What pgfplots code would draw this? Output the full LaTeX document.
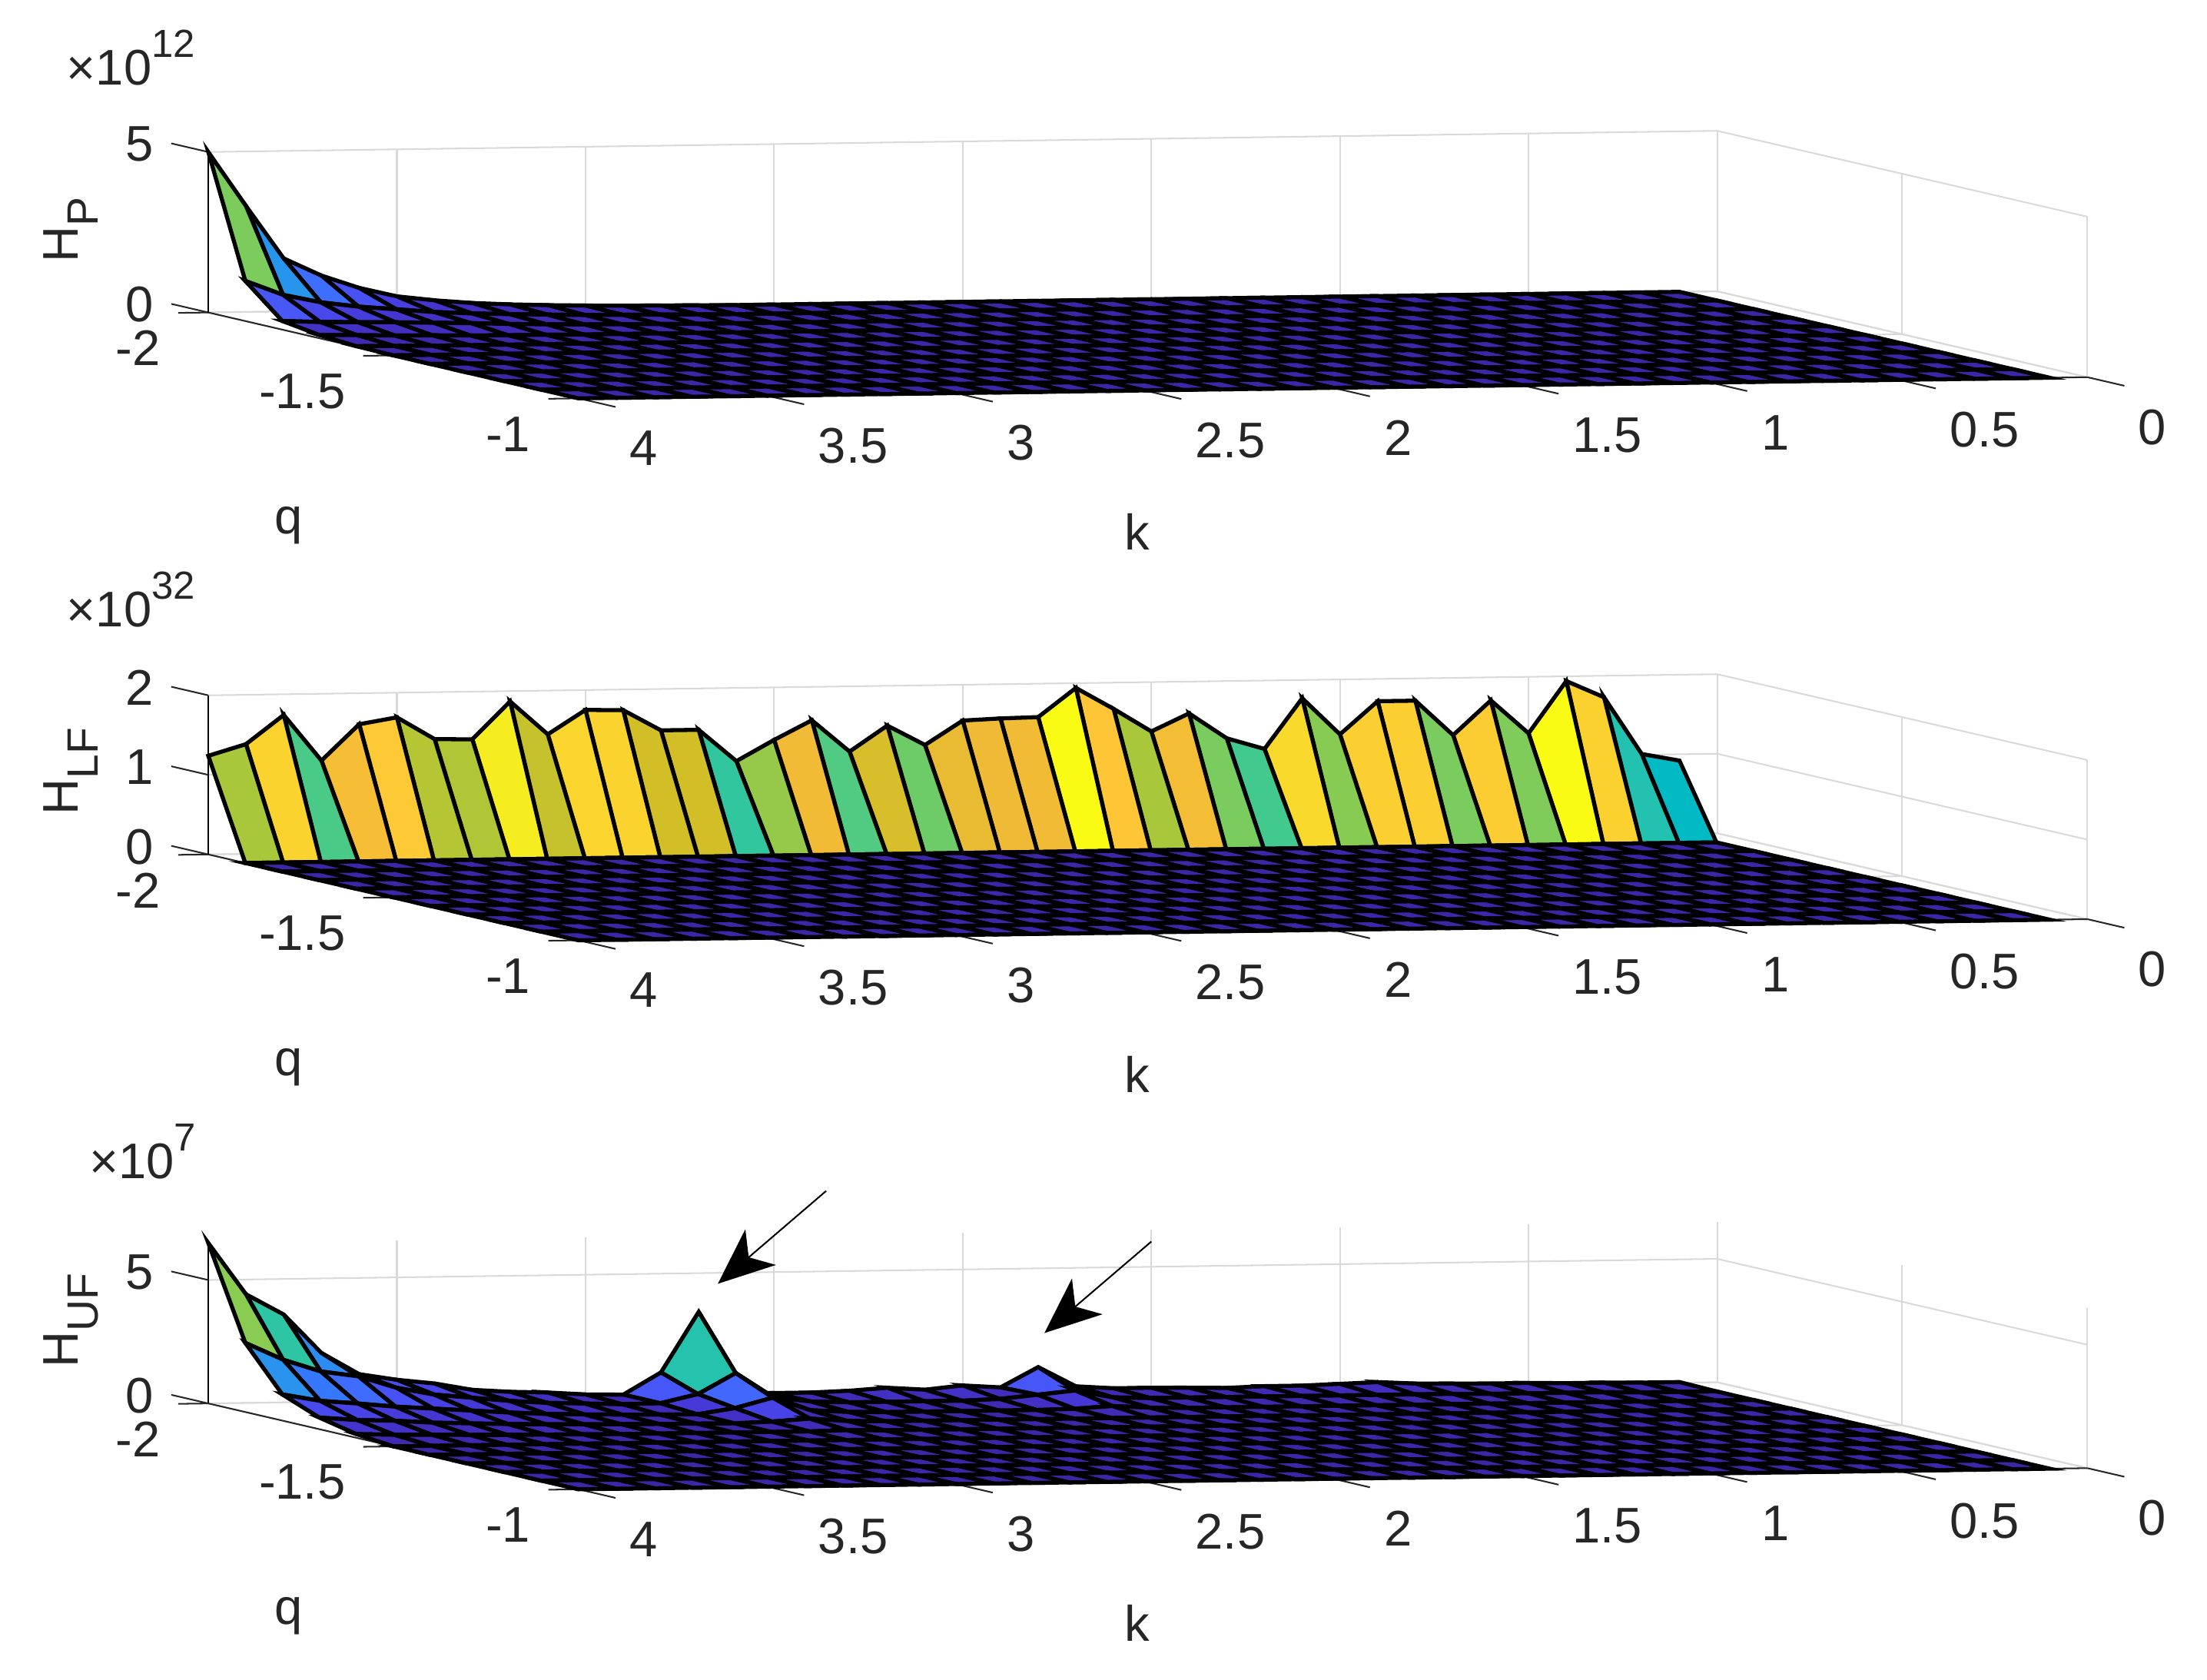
\documentclass[border=0pt]{standalone}
\usepackage{fontspec}
\setmainfont{Liberation Sans}
\usepackage{pgfplots}
\usepackage{pgfplotstable}
\pgfplotsset{compat=1.18}
\usetikzlibrary{arrows.meta}
\definecolor{axgray}{rgb}{0.15,0.15,0.15}
\newcommand{\lab}{\fontsize{16}{18}\selectfont\color{axgray}}
\newcommand{\labsub}[1]{\raisebox{-0.4em}{\fontsize{14}{12}\selectfont #1}}
\newcommand{\labsup}[1]{\raisebox{0.55em}{\fontsize{12.5}{12}\selectfont #1}}

% rows q=-1.5 ... -1 are flat in all three panels
\pgfplotstableread{
k q z
0.1 -1.5 0
0.2 -1.5 0
0.3 -1.5 0
0.4 -1.5 0
0.5 -1.5 0
0.6 -1.5 0
0.7 -1.5 0
0.8 -1.5 0
0.9 -1.5 0
1.0 -1.5 0
1.1 -1.5 0
1.2 -1.5 0
1.3 -1.5 0
1.4 -1.5 0
1.5 -1.5 0
1.6 -1.5 0
1.7 -1.5 0
1.8 -1.5 0
1.9 -1.5 0
2.0 -1.5 0
2.1 -1.5 0
2.2 -1.5 0
2.3 -1.5 0
2.4 -1.5 0
2.5 -1.5 0
2.6 -1.5 0
2.7 -1.5 0
2.8 -1.5 0
2.9 -1.5 0
3.0 -1.5 0
3.1 -1.5 0
3.2 -1.5 0
3.3 -1.5 0
3.4 -1.5 0
3.5 -1.5 0
3.6 -1.5 0
3.7 -1.5 0
3.8 -1.5 0
3.9 -1.5 0
4.0 -1.5 0
0.1 -1.4 0
0.2 -1.4 0
0.3 -1.4 0
0.4 -1.4 0
0.5 -1.4 0
0.6 -1.4 0
0.7 -1.4 0
0.8 -1.4 0
0.9 -1.4 0
1.0 -1.4 0
1.1 -1.4 0
1.2 -1.4 0
1.3 -1.4 0
1.4 -1.4 0
1.5 -1.4 0
1.6 -1.4 0
1.7 -1.4 0
1.8 -1.4 0
1.9 -1.4 0
2.0 -1.4 0
2.1 -1.4 0
2.2 -1.4 0
2.3 -1.4 0
2.4 -1.4 0
2.5 -1.4 0
2.6 -1.4 0
2.7 -1.4 0
2.8 -1.4 0
2.9 -1.4 0
3.0 -1.4 0
3.1 -1.4 0
3.2 -1.4 0
3.3 -1.4 0
3.4 -1.4 0
3.5 -1.4 0
3.6 -1.4 0
3.7 -1.4 0
3.8 -1.4 0
3.9 -1.4 0
4.0 -1.4 0
0.1 -1.3 0
0.2 -1.3 0
0.3 -1.3 0
0.4 -1.3 0
0.5 -1.3 0
0.6 -1.3 0
0.7 -1.3 0
0.8 -1.3 0
0.9 -1.3 0
1.0 -1.3 0
1.1 -1.3 0
1.2 -1.3 0
1.3 -1.3 0
1.4 -1.3 0
1.5 -1.3 0
1.6 -1.3 0
1.7 -1.3 0
1.8 -1.3 0
1.9 -1.3 0
2.0 -1.3 0
2.1 -1.3 0
2.2 -1.3 0
2.3 -1.3 0
2.4 -1.3 0
2.5 -1.3 0
2.6 -1.3 0
2.7 -1.3 0
2.8 -1.3 0
2.9 -1.3 0
3.0 -1.3 0
3.1 -1.3 0
3.2 -1.3 0
3.3 -1.3 0
3.4 -1.3 0
3.5 -1.3 0
3.6 -1.3 0
3.7 -1.3 0
3.8 -1.3 0
3.9 -1.3 0
4.0 -1.3 0
0.1 -1.2 0
0.2 -1.2 0
0.3 -1.2 0
0.4 -1.2 0
0.5 -1.2 0
0.6 -1.2 0
0.7 -1.2 0
0.8 -1.2 0
0.9 -1.2 0
1.0 -1.2 0
1.1 -1.2 0
1.2 -1.2 0
1.3 -1.2 0
1.4 -1.2 0
1.5 -1.2 0
1.6 -1.2 0
1.7 -1.2 0
1.8 -1.2 0
1.9 -1.2 0
2.0 -1.2 0
2.1 -1.2 0
2.2 -1.2 0
2.3 -1.2 0
2.4 -1.2 0
2.5 -1.2 0
2.6 -1.2 0
2.7 -1.2 0
2.8 -1.2 0
2.9 -1.2 0
3.0 -1.2 0
3.1 -1.2 0
3.2 -1.2 0
3.3 -1.2 0
3.4 -1.2 0
3.5 -1.2 0
3.6 -1.2 0
3.7 -1.2 0
3.8 -1.2 0
3.9 -1.2 0
4.0 -1.2 0
0.1 -1.1 0
0.2 -1.1 0
0.3 -1.1 0
0.4 -1.1 0
0.5 -1.1 0
0.6 -1.1 0
0.7 -1.1 0
0.8 -1.1 0
0.9 -1.1 0
1.0 -1.1 0
1.1 -1.1 0
1.2 -1.1 0
1.3 -1.1 0
1.4 -1.1 0
1.5 -1.1 0
1.6 -1.1 0
1.7 -1.1 0
1.8 -1.1 0
1.9 -1.1 0
2.0 -1.1 0
2.1 -1.1 0
2.2 -1.1 0
2.3 -1.1 0
2.4 -1.1 0
2.5 -1.1 0
2.6 -1.1 0
2.7 -1.1 0
2.8 -1.1 0
2.9 -1.1 0
3.0 -1.1 0
3.1 -1.1 0
3.2 -1.1 0
3.3 -1.1 0
3.4 -1.1 0
3.5 -1.1 0
3.6 -1.1 0
3.7 -1.1 0
3.8 -1.1 0
3.9 -1.1 0
4.0 -1.1 0
0.1 -1 0
0.2 -1 0
0.3 -1 0
0.4 -1 0
0.5 -1 0
0.6 -1 0
0.7 -1 0
0.8 -1 0
0.9 -1 0
1.0 -1 0
1.1 -1 0
1.2 -1 0
1.3 -1 0
1.4 -1 0
1.5 -1 0
1.6 -1 0
1.7 -1 0
1.8 -1 0
1.9 -1 0
2.0 -1 0
2.1 -1 0
2.2 -1 0
2.3 -1 0
2.4 -1 0
2.5 -1 0
2.6 -1 0
2.7 -1 0
2.8 -1 0
2.9 -1 0
3.0 -1 0
3.1 -1 0
3.2 -1 0
3.3 -1 0
3.4 -1 0
3.5 -1 0
3.6 -1 0
3.7 -1 0
3.8 -1 0
3.9 -1 0
4.0 -1 0
}\flatrows

% H_P, units of 1e12, rows q=-2 ... -1.6
\pgfplotstableread{
k q z
0.1 -2 0
0.2 -2 0
0.3 -2 0
0.4 -2 0
0.5 -2 0
0.6 -2 0
0.7 -2 0
0.8 -2 0
0.9 -2 0
1.0 -2 0
1.1 -2 0
1.2 -2 0
1.3 -2 0
1.4 -2 0
1.5 -2 0
1.6 -2 0
1.7 -2 0
1.8 -2 0
1.9 -2 0
2.0 -2 0
2.1 -2 0
2.2 -2 0
2.3 -2 0
2.4 -2 0
2.5 -2 0
2.6 -2 0
2.7 -2 0.01
2.8 -2 0.02
2.9 -2 0.03
3.0 -2 0.05
3.1 -2 0.08
3.2 -2 0.12
3.3 -2 0.18
3.4 -2 0.28
3.5 -2 0.42
3.6 -2 0.7
3.7 -2 1.1
3.8 -2 1.65
3.9 -2 3.3
4.0 -2 5
0.1 -1.9 0
0.2 -1.9 0
0.3 -1.9 0
0.4 -1.9 0
0.5 -1.9 0
0.6 -1.9 0
0.7 -1.9 0
0.8 -1.9 0
0.9 -1.9 0
1.0 -1.9 0
1.1 -1.9 0
1.2 -1.9 0
1.3 -1.9 0
1.4 -1.9 0
1.5 -1.9 0
1.6 -1.9 0
1.7 -1.9 0
1.8 -1.9 0
1.9 -1.9 0
2.0 -1.9 0
2.1 -1.9 0
2.2 -1.9 0
2.3 -1.9 0
2.4 -1.9 0
2.5 -1.9 0
2.6 -1.9 0
2.7 -1.9 0
2.8 -1.9 0.01
2.9 -1.9 0.02
3.0 -1.9 0.03
3.1 -1.9 0.04
3.2 -1.9 0.07
3.3 -1.9 0.1
3.4 -1.9 0.14
3.5 -1.9 0.2
3.6 -1.9 0.3
3.7 -1.9 0.4
3.8 -1.9 0.55
3.9 -1.9 0.8
4.0 -1.9 1.25
0.1 -1.8 0
0.2 -1.8 0
0.3 -1.8 0
0.4 -1.8 0
0.5 -1.8 0
0.6 -1.8 0
0.7 -1.8 0
0.8 -1.8 0
0.9 -1.8 0
1.0 -1.8 0
1.1 -1.8 0
1.2 -1.8 0
1.3 -1.8 0
1.4 -1.8 0
1.5 -1.8 0
1.6 -1.8 0
1.7 -1.8 0
1.8 -1.8 0
1.9 -1.8 0
2.0 -1.8 0
2.1 -1.8 0
2.2 -1.8 0
2.3 -1.8 0
2.4 -1.8 0
2.5 -1.8 0
2.6 -1.8 0
2.7 -1.8 0
2.8 -1.8 0
2.9 -1.8 0
3.0 -1.8 0.01
3.1 -1.8 0.02
3.2 -1.8 0.03
3.3 -1.8 0.05
3.4 -1.8 0.08
3.5 -1.8 0.12
3.6 -1.8 0.15
3.7 -1.8 0.18
3.8 -1.8 0.2
3.9 -1.8 0.22
4.0 -1.8 0.27
0.1 -1.7 0
0.2 -1.7 0
0.3 -1.7 0
0.4 -1.7 0
0.5 -1.7 0
0.6 -1.7 0
0.7 -1.7 0
0.8 -1.7 0
0.9 -1.7 0
1.0 -1.7 0
1.1 -1.7 0
1.2 -1.7 0
1.3 -1.7 0
1.4 -1.7 0
1.5 -1.7 0
1.6 -1.7 0
1.7 -1.7 0
1.8 -1.7 0
1.9 -1.7 0
2.0 -1.7 0
2.1 -1.7 0
2.2 -1.7 0
2.3 -1.7 0
2.4 -1.7 0
2.5 -1.7 0
2.6 -1.7 0
2.7 -1.7 0
2.8 -1.7 0
2.9 -1.7 0
3.0 -1.7 0
3.1 -1.7 0
3.2 -1.7 0
3.3 -1.7 0
3.4 -1.7 0.01
3.5 -1.7 0.01
3.6 -1.7 0.02
3.7 -1.7 0.04
3.8 -1.7 0.05
3.9 -1.7 0.08
4.0 -1.7 0.1
0.1 -1.6 0
0.2 -1.6 0
0.3 -1.6 0
0.4 -1.6 0
0.5 -1.6 0
0.6 -1.6 0
0.7 -1.6 0
0.8 -1.6 0
0.9 -1.6 0
1.0 -1.6 0
1.1 -1.6 0
1.2 -1.6 0
1.3 -1.6 0
1.4 -1.6 0
1.5 -1.6 0
1.6 -1.6 0
1.7 -1.6 0
1.8 -1.6 0
1.9 -1.6 0
2.0 -1.6 0
2.1 -1.6 0
2.2 -1.6 0
2.3 -1.6 0
2.4 -1.6 0
2.5 -1.6 0
2.6 -1.6 0
2.7 -1.6 0
2.8 -1.6 0
2.9 -1.6 0
3.0 -1.6 0
3.1 -1.6 0
3.2 -1.6 0
3.3 -1.6 0
3.4 -1.6 0
3.5 -1.6 0
3.6 -1.6 0
3.7 -1.6 0
3.8 -1.6 0
3.9 -1.6 0.01
4.0 -1.6 0.02
}\tableP
\pgfplotstablevertcat{\tableP}{\flatrows}

% H_LF, units of 1e32, only the row q=-2 is nonzero
\pgfplotstableread{
k q z
0.1 -2 0.92
0.2 -2 1.01
0.3 -2 1.73
0.4 -2 1.94
0.5 -2 1.29
0.6 -2 1.71
0.7 -2 1.28
0.8 -2 1.72
0.9 -2 1.72
1.0 -2 1.31
1.1 -2 1.77
1.2 -2 1.14
1.3 -2 1.28
1.4 -2 1.6
1.5 -2 1.38
1.6 -2 1.67
1.7 -2 1.94
1.8 -2 1.58
1.9 -2 1.57
2.0 -2 1.55
2.1 -2 1.25
2.2 -2 1.5
2.3 -2 1.18
2.4 -2 1.58
2.5 -2 1.34
2.6 -2 1.08
2.7 -2 1.48
2.8 -2 1.48
2.9 -2 1.74
3.0 -2 1.75
3.1 -2 1.45
3.2 -2 1.87
3.3 -2 1.4
3.4 -2 1.41
3.5 -2 1.69
3.6 -2 1.61
3.7 -2 1.16
3.8 -2 1.74
3.9 -2 1.38
4.0 -2 1.24
0.1 -1.9 0
0.2 -1.9 0
0.3 -1.9 0
0.4 -1.9 0
0.5 -1.9 0
0.6 -1.9 0
0.7 -1.9 0
0.8 -1.9 0
0.9 -1.9 0
1.0 -1.9 0
1.1 -1.9 0
1.2 -1.9 0
1.3 -1.9 0
1.4 -1.9 0
1.5 -1.9 0
1.6 -1.9 0
1.7 -1.9 0
1.8 -1.9 0
1.9 -1.9 0
2.0 -1.9 0
2.1 -1.9 0
2.2 -1.9 0
2.3 -1.9 0
2.4 -1.9 0
2.5 -1.9 0
2.6 -1.9 0
2.7 -1.9 0
2.8 -1.9 0
2.9 -1.9 0
3.0 -1.9 0
3.1 -1.9 0
3.2 -1.9 0
3.3 -1.9 0
3.4 -1.9 0
3.5 -1.9 0
3.6 -1.9 0
3.7 -1.9 0
3.8 -1.9 0
3.9 -1.9 0
4.0 -1.9 0
0.1 -1.8 0
0.2 -1.8 0
0.3 -1.8 0
0.4 -1.8 0
0.5 -1.8 0
0.6 -1.8 0
0.7 -1.8 0
0.8 -1.8 0
0.9 -1.8 0
1.0 -1.8 0
1.1 -1.8 0
1.2 -1.8 0
1.3 -1.8 0
1.4 -1.8 0
1.5 -1.8 0
1.6 -1.8 0
1.7 -1.8 0
1.8 -1.8 0
1.9 -1.8 0
2.0 -1.8 0
2.1 -1.8 0
2.2 -1.8 0
2.3 -1.8 0
2.4 -1.8 0
2.5 -1.8 0
2.6 -1.8 0
2.7 -1.8 0
2.8 -1.8 0
2.9 -1.8 0
3.0 -1.8 0
3.1 -1.8 0
3.2 -1.8 0
3.3 -1.8 0
3.4 -1.8 0
3.5 -1.8 0
3.6 -1.8 0
3.7 -1.8 0
3.8 -1.8 0
3.9 -1.8 0
4.0 -1.8 0
0.1 -1.7 0
0.2 -1.7 0
0.3 -1.7 0
0.4 -1.7 0
0.5 -1.7 0
0.6 -1.7 0
0.7 -1.7 0
0.8 -1.7 0
0.9 -1.7 0
1.0 -1.7 0
1.1 -1.7 0
1.2 -1.7 0
1.3 -1.7 0
1.4 -1.7 0
1.5 -1.7 0
1.6 -1.7 0
1.7 -1.7 0
1.8 -1.7 0
1.9 -1.7 0
2.0 -1.7 0
2.1 -1.7 0
2.2 -1.7 0
2.3 -1.7 0
2.4 -1.7 0
2.5 -1.7 0
2.6 -1.7 0
2.7 -1.7 0
2.8 -1.7 0
2.9 -1.7 0
3.0 -1.7 0
3.1 -1.7 0
3.2 -1.7 0
3.3 -1.7 0
3.4 -1.7 0
3.5 -1.7 0
3.6 -1.7 0
3.7 -1.7 0
3.8 -1.7 0
3.9 -1.7 0
4.0 -1.7 0
0.1 -1.6 0
0.2 -1.6 0
0.3 -1.6 0
0.4 -1.6 0
0.5 -1.6 0
0.6 -1.6 0
0.7 -1.6 0
0.8 -1.6 0
0.9 -1.6 0
1.0 -1.6 0
1.1 -1.6 0
1.2 -1.6 0
1.3 -1.6 0
1.4 -1.6 0
1.5 -1.6 0
1.6 -1.6 0
1.7 -1.6 0
1.8 -1.6 0
1.9 -1.6 0
2.0 -1.6 0
2.1 -1.6 0
2.2 -1.6 0
2.3 -1.6 0
2.4 -1.6 0
2.5 -1.6 0
2.6 -1.6 0
2.7 -1.6 0
2.8 -1.6 0
2.9 -1.6 0
3.0 -1.6 0
3.1 -1.6 0
3.2 -1.6 0
3.3 -1.6 0
3.4 -1.6 0
3.5 -1.6 0
3.6 -1.6 0
3.7 -1.6 0
3.8 -1.6 0
3.9 -1.6 0
4.0 -1.6 0
}\tableLF
\pgfplotstablevertcat{\tableLF}{\flatrows}

% H_UF, units of 1e7, rows q=-2 ... -1.6
\pgfplotstableread{
k q z
0.1 -2 0.03
0.2 -2 0.03
0.3 -2 0.05
0.4 -2 0.05
0.5 -2 0.08
0.6 -2 0.08
0.7 -2 0.1
0.8 -2 0.12
0.9 -2 0.2
1.0 -2 0.15
1.1 -2 0.1
1.2 -2 0.1
1.3 -2 0.05
1.4 -2 0.08
1.5 -2 0.1
1.6 -2 0.1
1.7 -2 0.2
1.8 -2 1.0
1.9 -2 0.2
2.0 -2 0.3
2.1 -2 0.15
2.2 -2 0.25
2.3 -2 0.15
2.4 -2 0.1
2.5 -2 0.1
2.6 -2 0.15
2.7 -2 3.43
2.8 -2 1.0
2.9 -2 0.12
3.0 -2 0.15
3.1 -2 0.25
3.2 -2 0.3
3.3 -2 0.4
3.4 -2 0.68
3.5 -2 0.85
3.6 -2 1.1
3.7 -2 1.98
3.8 -2 3.56
3.9 -2 4.4
4.0 -2 6.5
0.1 -1.9 0
0.2 -1.9 0
0.3 -1.9 0
0.4 -1.9 0.03
0.5 -1.9 0.03
0.6 -1.9 0.03
0.7 -1.9 0.03
0.8 -1.9 0.05
0.9 -1.9 0.05
1.0 -1.9 0.05
1.1 -1.9 0.05
1.2 -1.9 0.05
1.3 -1.9 0.05
1.4 -1.9 0.05
1.5 -1.9 0.05
1.6 -1.9 0.05
1.7 -1.9 0.1
1.8 -1.9 0.4
1.9 -1.9 0.25
2.0 -1.9 0.1
2.1 -1.9 0.05
2.2 -1.9 0.05
2.3 -1.9 0.05
2.4 -1.9 0.05
2.5 -1.9 0.1
2.6 -1.9 0.3
2.7 -1.9 1.3
2.8 -1.9 0.47
2.9 -1.9 0.12
3.0 -1.9 0.1
3.1 -1.9 0.15
3.2 -1.9 0.2
3.3 -1.9 0.3
3.4 -1.9 0.45
3.5 -1.9 0.6
3.6 -1.9 0.9
3.7 -1.9 1.38
3.8 -1.9 1.6
3.9 -1.9 2.1
4.0 -1.9 2.8
0.1 -1.8 0
0.2 -1.8 0
0.3 -1.8 0
0.4 -1.8 0
0.5 -1.8 0
0.6 -1.8 0
0.7 -1.8 0
0.8 -1.8 0
0.9 -1.8 0
1.0 -1.8 0
1.1 -1.8 0
1.2 -1.8 0
1.3 -1.8 0
1.4 -1.8 0
1.5 -1.8 0
1.6 -1.8 0
1.7 -1.8 0.03
1.8 -1.8 0.12
1.9 -1.8 0.03
2.0 -1.8 0
2.1 -1.8 0
2.2 -1.8 0
2.3 -1.8 0
2.4 -1.8 0
2.5 -1.8 0.03
2.6 -1.8 0.12
2.7 -1.8 0.65
2.8 -1.8 0.25
2.9 -1.8 0.02
3.0 -1.8 0.03
3.1 -1.8 0.05
3.2 -1.8 0.08
3.3 -1.8 0.12
3.4 -1.8 0.2
3.5 -1.8 0.3
3.6 -1.8 0.4
3.7 -1.8 0.5
3.8 -1.8 0.65
3.9 -1.8 0.78
4.0 -1.8 1.06
0.1 -1.7 0
0.2 -1.7 0
0.3 -1.7 0
0.4 -1.7 0
0.5 -1.7 0
0.6 -1.7 0
0.7 -1.7 0
0.8 -1.7 0
0.9 -1.7 0
1.0 -1.7 0
1.1 -1.7 0
1.2 -1.7 0
1.3 -1.7 0
1.4 -1.7 0
1.5 -1.7 0
1.6 -1.7 0
1.7 -1.7 0
1.8 -1.7 0
1.9 -1.7 0
2.0 -1.7 0
2.1 -1.7 0
2.2 -1.7 0
2.3 -1.7 0
2.4 -1.7 0
2.5 -1.7 0
2.6 -1.7 0.03
2.7 -1.7 0.15
2.8 -1.7 0.05
2.9 -1.7 0
3.0 -1.7 0.01
3.1 -1.7 0.02
3.2 -1.7 0.03
3.3 -1.7 0.05
3.4 -1.7 0.07
3.5 -1.7 0.1
3.6 -1.7 0.15
3.7 -1.7 0.2
3.8 -1.7 0.3
3.9 -1.7 0.35
4.0 -1.7 0.47
0.1 -1.6 0
0.2 -1.6 0
0.3 -1.6 0
0.4 -1.6 0
0.5 -1.6 0
0.6 -1.6 0
0.7 -1.6 0
0.8 -1.6 0
0.9 -1.6 0
1.0 -1.6 0
1.1 -1.6 0
1.2 -1.6 0
1.3 -1.6 0
1.4 -1.6 0
1.5 -1.6 0
1.6 -1.6 0
1.7 -1.6 0
1.8 -1.6 0
1.9 -1.6 0
2.0 -1.6 0
2.1 -1.6 0
2.2 -1.6 0
2.3 -1.6 0
2.4 -1.6 0
2.5 -1.6 0
2.6 -1.6 0
2.7 -1.6 0.03
2.8 -1.6 0
2.9 -1.6 0
3.0 -1.6 0
3.1 -1.6 0
3.2 -1.6 0
3.3 -1.6 0
3.4 -1.6 0.01
3.5 -1.6 0.02
3.6 -1.6 0.03
3.7 -1.6 0.05
3.8 -1.6 0.08
3.9 -1.6 0.1
4.0 -1.6 0.15
}\tableUF
\pgfplotstablevertcat{\tableUF}{\flatrows}

\pgfplotsset{
  colormap={parula}{
    rgb=(.2422,.1504,.6603) rgb=(.2647,.1978,.7952) rgb=(.2783,.2559,.8991)
    rgb=(.2810,.3228,.9579) rgb=(.2699,.3892,.9906) rgb=(.2206,.4603,.9973)
    rgb=(.1786,.5289,.9682) rgb=(.1540,.5902,.9218) rgb=(.1248,.6459,.8883)
    rgb=(.0689,.6948,.8394) rgb=(.0067,.7312,.7660) rgb=(.1408,.7584,.6842)
    rgb=(.2161,.7843,.5923) rgb=(.3406,.8008,.4789) rgb=(.5044,.7993,.3480)
    rgb=(.6720,.7793,.2227) rgb=(.8203,.7498,.1535) rgb=(.9393,.7288,.2100)
    rgb=(.9970,.7659,.2199) rgb=(.9786,.8386,.1766) rgb=(.9597,.9135,.1423)
    rgb=(.9769,.9839,.0805)},
  panel/.style={
    anchor=south west,
    x={(-120.6pt,-1.69pt)}, y={(118.35pt,-27.45pt)},
    xmin=0, xmax=4, ymin=-2, ymax=-1, zmin=0,
    clip=false,
    xtick={0,0.5,1,1.5,2,2.5,3,3.5,4},
    xticklabels={0,0.5,1,1.5,2,2.5,3,3.5,4},
    ytick={-2,-1.5,-1},
    yticklabels={-2,-1.5,-1},
    tick align=outside,
    tick pos=left,
    major tick length=11pt,
    tick style={draw=none},
    axis line style={draw=none},
    grid=major,
    grid style={draw=gray!30, line width=0.5pt},
    tick label style={font=\lab, inner sep=0pt},
    x tick label style={anchor=west, xshift=5.45pt, yshift=-13.5pt},
    y tick label style={anchor=east, xshift=-4.2pt, yshift=-11.3pt},
    z tick label style={anchor=east, xshift=-6.7pt, yshift=0pt},
    xlabel={k}, ylabel={q},
    every axis x label/.style={at={(axis cs:4,-2,0)}, anchor=center, font=\lab, xshift=297pt, yshift=-70.2pt},
    every axis y label/.style={at={(axis cs:4,-2,0)}, anchor=center, font=\lab, xshift=25.65pt, yshift=-68pt},
    every axis z label/.style={at={(axis cs:4,-2,0)}, anchor=center, font=\lab, xshift=-44pt, yshift=26.55pt, rotate=90},
  },
  hsurf/.style={surf, shader=flat corner, draw=black, line width=1.3pt,
    z buffer=none, mesh/rows=11, mesh/cols=40},
}
% axis lines and tick marks, drawn under the surface
\newcommand{\axisdecor}[2]{%
  \draw[axgray, line width=0.5pt] (axis cs:4,-2,0) -- (axis cs:4,-1,0) -- (axis cs:0,-1,0);
  \draw[black, line width=0.6pt] (axis cs:4,-2,0) -- (axis cs:4,-2,#1);
  \pgfplotsinvokeforeach{0,0.5,1,1.5,2,2.5,3,3.5,4}{\draw[axgray, line width=0.5pt] (axis cs:##1,-1,0) -- (axis cs:##1,-0.9,0);}
  \pgfplotsinvokeforeach{-2,-1.5,-1}{\draw[axgray, line width=0.5pt] (axis cs:4,##1,0) -- (axis cs:4.08,##1,0);}
  \pgfplotsinvokeforeach{#2}{\draw[axgray, line width=0.5pt] (axis cs:4,-2,##1) -- (axis cs:4,-2.1,##1);}
}

\begin{document}
\begin{tikzpicture}
\useasboundingbox (0,0) rectangle (705.6pt,536.85pt);

\begin{axis}[panel, at={(66.6pt,409.5pt)}, z={(0pt,10.26pt)},
  zmax=5, ztick={0,5}, zticklabels={0,5},
  zlabel={H\labsub{P}}]
\axisdecor{5}{0,5}
\addplot3[hsurf] table[x=k,y=q,z=z]{\tableP};
\node[font=\lab, anchor=center] at (axis cs:4,-2,0) [xshift=-24.75pt, yshift=81.5pt] {×10\labsup{12}};
\end{axis}

\begin{axis}[panel, at={(66.6pt,236.25pt)}, z={(0pt,25.43pt)},
  zmax=2, ztick={0,1,2}, zticklabels={0,1,2},
  zlabel={H\labsub{LF}}]
\axisdecor{2}{0,1,2}
\addplot3[hsurf] table[x=k,y=q,z=z]{\tableLF};
\node[font=\lab, anchor=center] at (axis cs:4,-2,0) [xshift=-24.75pt, yshift=81.5pt] {×10\labsup{32}};
\end{axis}

\begin{axis}[panel, at={(66.6pt,60.75pt)}, z={(0pt,7.89pt)},
  zmax=6.5, ztick={0,5}, zticklabels={0,5},
  zlabel={H\labsub{UF}}]
\axisdecor{6.5}{0,5}
\addplot3[hsurf] table[x=k,y=q,z=z]{\tableUF};
\node[font=\lab, anchor=center] at (axis cs:4,-2,0) [xshift=-21pt, yshift=80.5pt] {×10\labsup{7}};
\end{axis}

\draw[-{Stealth[length=18pt,width=15pt,inset=5pt]}, line width=0.5pt] (264.15pt,156.15pt) -- (229.5pt,126.45pt);
\draw[-{Stealth[length=18pt,width=15pt,inset=5pt]}, line width=0.5pt] (368.1pt,139.95pt) -- (333.9pt,110.7pt);
\end{tikzpicture}
\end{document}
